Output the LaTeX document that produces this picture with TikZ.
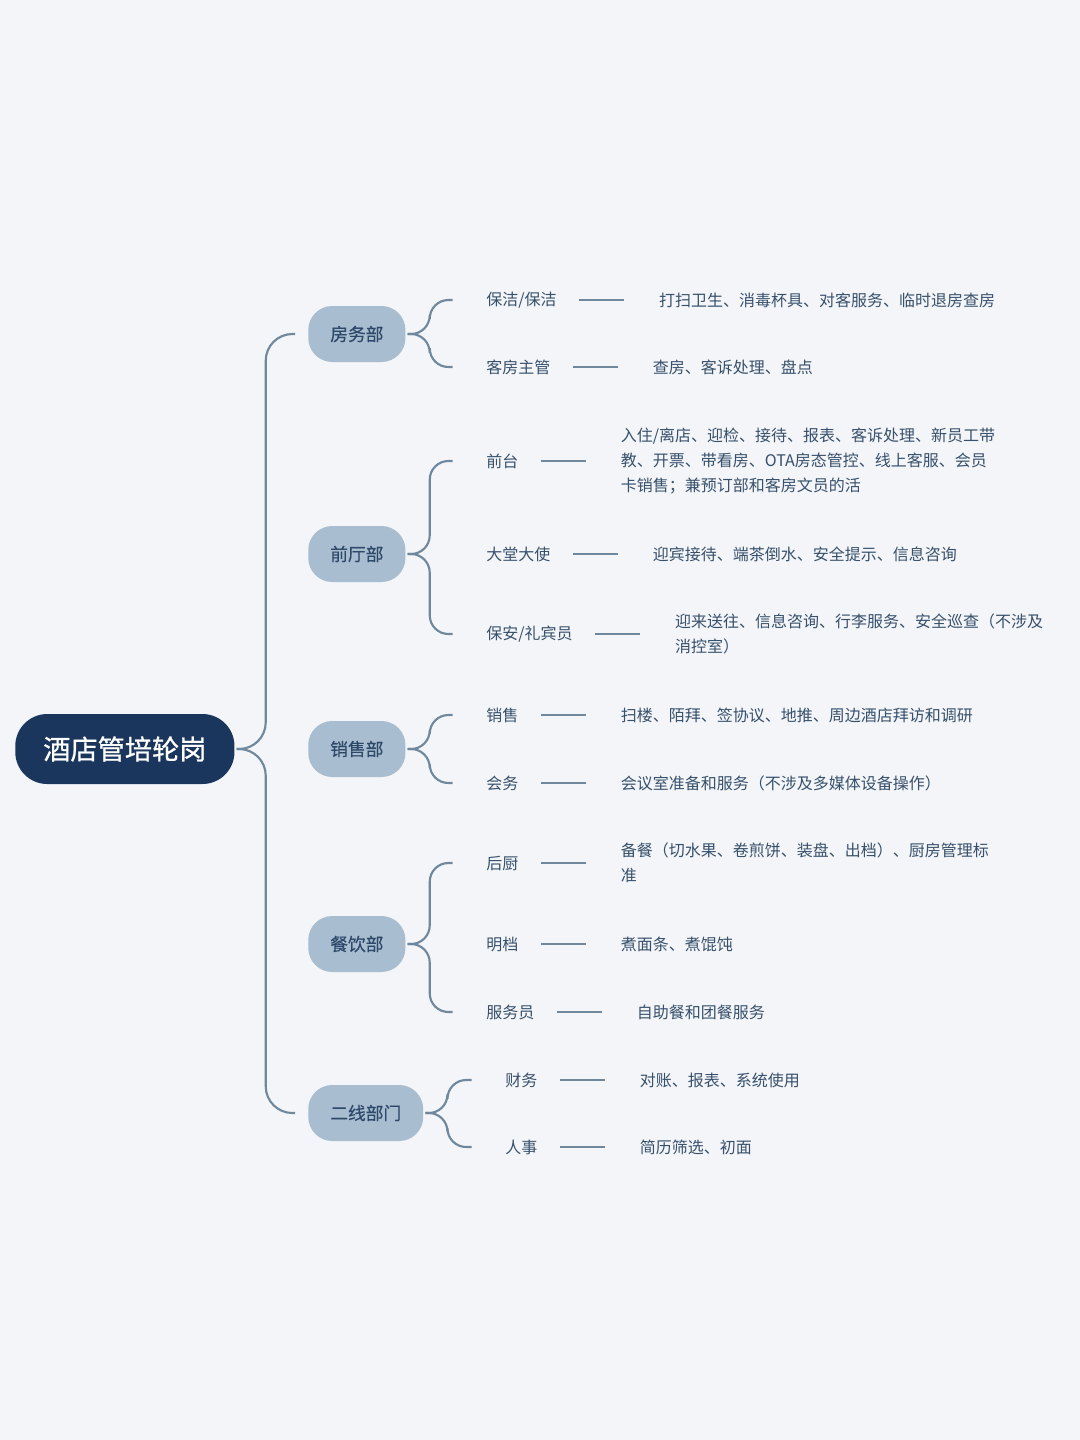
\documentclass[tikz,border=0pt]{standalone}
\usepackage{fontspec}
\setmainfont{Noto Sans CJK SC}
\newfontfamily\rootfont{Noto Sans CJK SC}[FakeBold=0.9]
\newfontfamily\deptfont{Noto Sans CJK SC}[FakeBold=0.35]
\usetikzlibrary{positioning}

\definecolor{paper}{HTML}{F3F5F8}
\definecolor{rootblue}{HTML}{1B365D}
\definecolor{deptfill}{HTML}{A9BDD0}
\definecolor{depttext}{HTML}{2D4868}
\definecolor{linkgray}{HTML}{6F889E}
\definecolor{jobtext}{HTML}{37506B}

\begin{document}
\begin{tikzpicture}[x=0.75pt,y=-0.75pt]

\tikzstyle{rootbox}=[fill=rootblue,text=white,rounded corners=24pt,
  minimum height=52.5pt,inner xsep=21pt,anchor=west,
  font=\rootfont\fontsize{20.4}{24}\selectfont]
\tikzstyle{dept}=[fill=deptfill,text=depttext,rounded corners=18pt,
  minimum height=42pt,inner xsep=16.5pt,anchor=west,
  font=\deptfont\fontsize{13.3}{16}\selectfont]
\tikzstyle{job}=[inner sep=0pt,anchor=west,text=jobtext,
  font=\fontsize{12}{18.75}\selectfont]
\tikzstyle{duty}=[job,align=left,right=76.5pt of #1]
\tikzstyle{link}=[draw=linkgray,line width=1.6pt,rounded corners=14pt,
  shorten >=25pt]
\tikzstyle{trunk}=[link,rounded corners=20pt,shorten >=9.75pt]
\tikzstyle{dashlink}=[draw=linkgray,line width=1.6pt,
  shorten <=16.5pt,shorten >=26.25pt]

\fill[paper] (0,0) rectangle (1080,1440);
\useasboundingbox (0,0) rectangle (1080,1440);

%% Root and departments
\node [rootbox] (root) at (15,749) {酒店管培轮岗};

\node [dept] (fw) at (308,334) {房务部};
\node [dept] (qt) at (308,554) {前厅部};
\node [dept] (xs) at (308,749) {销售部};
\node [dept] (cy) at (308,944) {餐饮部};
\node [dept] (ex) at (308,1113) {二线部门};

\draw[trunk] ([xshift=1.5pt]root.east) -- ++(29,0) |- (fw.west);
\draw[trunk] ([xshift=1.5pt]root.east) -- ++(29,0) |- (ex.west);

%% 房务部
\node [job] (fw1) at (486,300) {保洁/保洁};
\node [job] (fw2) at (486,367) {客房主管};
\node [duty=fw1] (fw1d) {打扫卫生、消毒杯具、对客服务、临时退房查房};
\node [duty=fw2] (fw2d) {查房、客诉处理、盘点};

%% 前厅部
\node [job] (qt1) at (486,461) {前台};
\node [job] (qt2) at (486,554) {大堂大使};
\node [job] (qt3) at (486,634) {保安/礼宾员};
\node [duty=qt1] (qt1d) {入住/离店、迎检、接待、报表、客诉处理、新员工带\\
  教、开票、带看房、OTA房态管控、线上客服、会员\\
  卡销售；兼预订部和客房文员的活};
\node [duty=qt2] (qt2d) {迎宾接待、端茶倒水、安全提示、信息咨询};
\node [duty=qt3] (qt3d) {迎来送往、信息咨询、行李服务、安全巡查（不涉及\\
  消控室）};

%% 销售部
\node [job] (xs1) at (486,715) {销售};
\node [job] (xs2) at (486,783) {会务};
\node [duty=xs1] (xs1d) {扫楼、陌拜、签协议、地推、周边酒店拜访和调研};
\node [duty=xs2] (xs2d) {会议室准备和服务（不涉及多媒体设备操作）};

%% 餐饮部
\node [job] (cy1) at (486,863) {后厨};
\node [job] (cy2) at (486,944) {明档};
\node [job] (cy3) at (486,1012) {服务员};
\node [duty=cy1] (cy1d) {备餐（切水果、卷煎饼、装盘、出档）、厨房管理标\\准};
\node [duty=cy2] (cy2d) {煮面条、煮馄饨};
\node [duty=cy3] (cy3d) {自助餐和团餐服务};

%% 二线部门
\node [job] (ex1) at (505,1080) {财务};
\node [job] (ex2) at (505,1147) {人事};
\node [duty=ex1] (ex1d) {对账、报表、系统使用};
\node [duty=ex2] (ex2d) {简历筛选、初面};

%% Braces from departments
\draw[link] ([xshift=1.5pt]fw.east) -- ++(22,0) |- (fw1.west);
\draw[link] ([xshift=1.5pt]fw.east) -- ++(22,0) |- (fw2.west);
\draw[link] ([xshift=1.5pt]qt.east) -- ++(22,0) |- (qt1.west);
\draw[link] ([xshift=1.5pt]qt.east) -- ++(22,0) |- (qt3.west);
\draw[link] ([xshift=1.5pt]xs.east) -- ++(22,0) |- (xs1.west);
\draw[link] ([xshift=1.5pt]xs.east) -- ++(22,0) |- (xs2.west);
\draw[link] ([xshift=1.5pt]cy.east) -- ++(22,0) |- (cy1.west);
\draw[link] ([xshift=1.5pt]cy.east) -- ++(22,0) |- (cy3.west);
\draw[link] ([xshift=1.5pt]ex.east) -- ++(22,0) |- (ex1.west);
\draw[link] ([xshift=1.5pt]ex.east) -- ++(22,0) |- (ex2.west);

%% Dashes between jobs and duties
\foreach \j in {fw1,fw2,qt1,qt2,qt3,xs1,xs2,cy1,cy2,cy3,ex1,ex2}
  \draw[dashlink] (\j.east) -- (\j d.west);

\end{tikzpicture}
\end{document}
